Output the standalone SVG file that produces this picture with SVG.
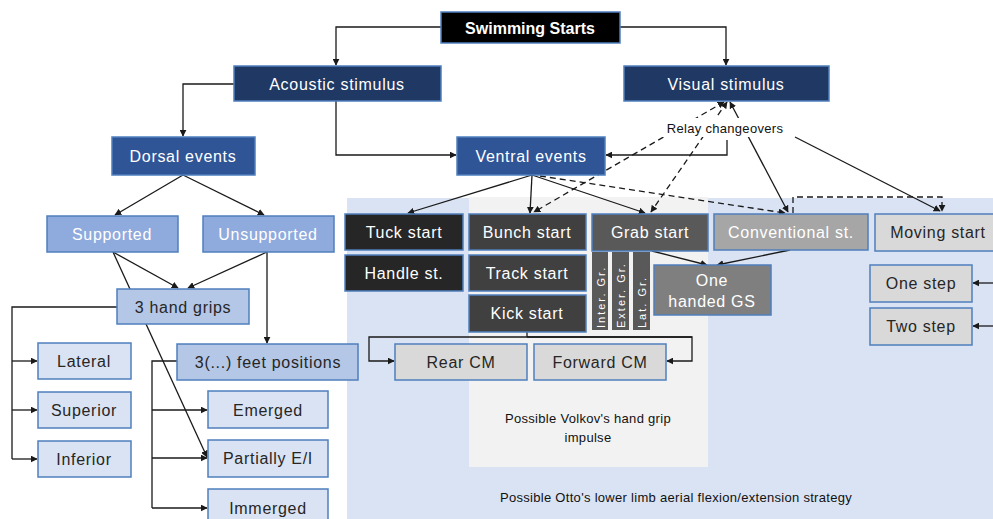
<svg xmlns="http://www.w3.org/2000/svg" width="993" height="519" viewBox="0 0 993 519">
<defs>
<marker id="ah" viewBox="0 0 10 10" refX="9" refY="5" markerWidth="7" markerHeight="7" orient="auto-start-reverse" markerUnits="userSpaceOnUse">
<path d="M0,0 L10,5 L0,10 z" fill="#1a1a1a"/>
</marker>
<style>
.n{stroke:#4f7fbd;stroke-width:1.5}
.t{font-family:"Liberation Sans",Arial,sans-serif;font-size:16px;letter-spacing:0.7px;text-anchor:middle;dominant-baseline:central}
.w{fill:#ffffff}
.d{fill:#262626}
.s{font-family:"Liberation Sans",Arial,sans-serif;font-size:13px;letter-spacing:0.3px;text-anchor:middle;dominant-baseline:central;fill:#111}
.r{font-family:"Liberation Sans",Arial,sans-serif;font-size:11px;letter-spacing:2px;fill:#ffffff;dominant-baseline:central}
.c{fill:none;stroke:#1a1a1a;stroke-width:1.3}
.a{marker-end:url(#ah)}
.b{marker-start:url(#ah);marker-end:url(#ah)}
.dash{stroke-dasharray:6,4}
</style>
</defs>
<rect width="993" height="519" fill="#ffffff"/>
<g id="regions">
<rect x="347" y="198" width="650" height="325" fill="#dae3f3"/>
<rect x="469" y="197" width="239" height="270" fill="#f2f2f2"/>
<text class="s" x="588" y="418">Possible Volkov's hand grip</text>
<text class="s" x="588" y="437">impulse</text>
<text class="s" x="676" y="497">Possible Otto's lower limb aerial flexion/extension strategy</text>
</g>
<g id="connectors">
<path class="c a" d="M441,27 H336 V65"/>
<path class="c a" d="M620,27 H726 V65"/>
<path class="c a" d="M234,84 H183 V136"/>
<path class="c a" d="M336,101 V155 H456"/>
<path class="c a" d="M727,140 V155 H606"/>
<path class="c a" d="M183,175 L115,215"/>
<path class="c a" d="M183,175 L264,215"/>
<path class="c a" d="M113,252 L178,288"/>
<path class="c a" d="M267,252 L188,288"/>
<path class="c a" d="M113,252 L207,457"/>
<path class="c a" d="M267,252 V343"/>
<path class="c" d="M117,307 H12 V459"/>
<path class="c a" d="M12,361 H37"/>
<path class="c a" d="M12,410 H37"/>
<path class="c a" d="M12,459 H37"/>
<path class="c" d="M177,361 H152 V508"/>
<path class="c a" d="M152,410 H207"/>
<path class="c a" d="M152,458 H207"/>
<path class="c a" d="M152,508 H207"/>
<path class="c a" d="M532,175 L408,213"/>
<path class="c a" d="M532,175 L530,213"/>
<path class="c a" d="M532,175 L645,213"/>
<path class="c a dash" d="M540,176 L785,213"/>
<path class="c b dash" d="M724,102 L534,212"/>
<path class="c b dash" d="M727,102 L651,212"/>
<path class="c b" d="M730,102 L788,212"/>
<path class="c a" d="M795,137 L940,211"/>
<path class="c a dash" d="M793,213 V197 H942 V211"/>
<path class="c a" d="M652,251 L707,265"/>
<path class="c a" d="M790,250 L717,265"/>
<path class="c" d="M527,332 V337"/>
<path class="c a" d="M692,337 H369 V361 H394"/>
<path class="c a" d="M527,337 H692 V361 H667"/>
<path class="c a" d="M993,283 H973"/>
<path class="c a" d="M993,326 H973"/>
</g>
<g id="relay-label">
<rect x="661" y="118" width="128" height="19" fill="#ffffff"/>
<text class="s" x="725" y="128">Relay changeovers</text>
</g>
<g id="swimming-starts"><rect class="n" x="441" y="12" width="179" height="31" fill="#000000"/><text class="t w" x="530" y="28" style="font-weight:bold;letter-spacing:0">Swimming Starts</text></g>
<g id="acoustic"><rect class="n" x="234" y="66" width="207" height="35" fill="#1f3864"/><text class="t w" x="337" y="84">Acoustic stimulus</text></g>
<g id="visual"><rect class="n" x="624" y="66" width="205" height="35" fill="#1f3864"/><text class="t w" x="726" y="84">Visual stimulus</text></g>
<g id="dorsal"><rect class="n" x="112" y="137" width="143" height="38" fill="#2f5597"/><text class="t w" x="183" y="156">Dorsal events</text></g>
<g id="ventral"><rect class="n" x="457" y="137" width="148" height="38" fill="#2f5597"/><text class="t w" x="531" y="156">Ventral events</text></g>
<g id="supported"><rect class="n" x="47" y="216" width="131" height="36" fill="#8faadc"/><text class="t w" x="112" y="234">Supported</text></g>
<g id="unsupported"><rect class="n" x="203" y="216" width="131" height="36" fill="#8faadc"/><text class="t w" x="268" y="234">Unsupported</text></g>
<g id="hand-grips"><rect class="n" x="117" y="289" width="132" height="35" fill="#b4c7e7"/><text class="t d" x="183" y="307">3 hand grips</text></g>
<g id="feet-positions"><rect class="n" x="177" y="344" width="181" height="36" fill="#b4c7e7"/><text class="t d" x="268" y="362">3(...) feet positions</text></g>
<g id="lateral"><rect class="n" x="38" y="343" width="93" height="36" fill="#dae3f3"/><text class="t d" x="84" y="361">Lateral</text></g>
<g id="superior"><rect class="n" x="38" y="392" width="93" height="36" fill="#dae3f3"/><text class="t d" x="84" y="410">Superior</text></g>
<g id="inferior"><rect class="n" x="38" y="441" width="93" height="36" fill="#dae3f3"/><text class="t d" x="84" y="459">Inferior</text></g>
<g id="emerged"><rect class="n" x="208" y="391" width="120" height="37" fill="#dae3f3"/><text class="t d" x="268" y="410">Emerged</text></g>
<g id="partially"><rect class="n" x="208" y="440" width="120" height="37" fill="#dae3f3"/><text class="t d" x="268" y="458">Partially E/I</text></g>
<g id="immerged"><rect class="n" x="208" y="489" width="120" height="37" fill="#dae3f3"/><text class="t d" x="268" y="508">Immerged</text></g>
<g id="tuck"><rect class="n" x="345" y="214" width="118" height="36" fill="#262626"/><text class="t w" x="404" y="232">Tuck start</text></g>
<g id="handle"><rect class="n" x="345" y="255" width="118" height="36" fill="#262626"/><text class="t w" x="404" y="273">Handle st.</text></g>
<g id="bunch"><rect class="n" x="469" y="214" width="117" height="36" fill="#404040"/><text class="t w" x="527" y="232">Bunch start</text></g>
<g id="track"><rect class="n" x="469" y="255" width="117" height="36" fill="#404040"/><text class="t w" x="527" y="273">Track start</text></g>
<g id="kick"><rect class="n" x="469" y="295" width="117" height="37" fill="#404040"/><text class="t w" x="527" y="313">Kick start</text></g>
<g id="grab"><rect class="n" x="592" y="214" width="116" height="37" fill="#595959"/><text class="t w" x="650" y="232">Grab start</text></g>
<g id="inter-gr"><rect x="592" y="252" width="16" height="78" fill="#595959"/><text class="r" transform="translate(601,328) rotate(-90)">Inter. Gr.</text></g>
<g id="exter-gr"><rect x="612" y="252" width="17" height="78" fill="#595959"/><text class="r" transform="translate(621,328) rotate(-90)">Exter. Gr.</text></g>
<g id="lat-gr"><rect x="633" y="252" width="17" height="78" fill="#595959"/><text class="r" transform="translate(642,328) rotate(-90)">Lat. Gr.</text></g>
<g id="one-handed"><rect class="n" x="654" y="265" width="117" height="50" fill="#7f7f7f"/><text class="t w" x="712" y="280">One</text><text class="t w" x="712" y="301">handed GS</text></g>
<g id="conventional"><rect class="n" x="714" y="214" width="154" height="36" fill="#a6a6a6"/><text class="t w" x="791" y="232">Conventional st.</text></g>
<g id="moving"><rect class="n" x="875" y="214" width="125" height="37" fill="#d9d9d9"/><text class="t d" x="938" y="232">Moving start</text></g>
<g id="one-step"><rect class="n" x="870" y="265" width="102" height="37" fill="#d9d9d9"/><text class="t d" x="921" y="283">One step</text></g>
<g id="two-step"><rect class="n" x="870" y="308" width="102" height="37" fill="#d9d9d9"/><text class="t d" x="921" y="326">Two step</text></g>
<g id="rear-cm"><rect class="n" x="395" y="344" width="132" height="36" fill="#d9d9d9"/><text class="t d" x="461" y="362">Rear CM</text></g>
<g id="forward-cm"><rect class="n" x="534" y="344" width="132" height="36" fill="#d9d9d9"/><text class="t d" x="600" y="362">Forward CM</text></g>
</svg>
